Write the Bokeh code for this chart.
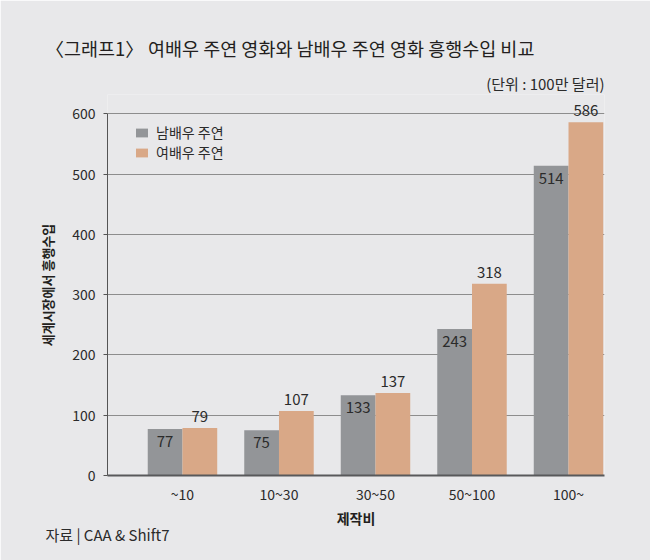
import numpy as np
from bokeh.plotting import figure
from bokeh.models import Range1d, FixedTicker, Title, Legend, LegendItem, ColumnDataSource
from bokeh.embed import file_html
from bokeh.resources import INLINE
from bokeh.core.properties import value

# ---- data ----
categories = ["~10", "10~30", "30~50", "50~100", "100~"]
male = [77, 75, 133, 243, 514]
female = [79, 107, 137, 318, 586]
y_ticks = [0, 100, 200, 300, 400, 500, 600]
series_names = ["남배우 주연", "여배우 주연"]
title_text = "〈그래프1〉 여배우 주연 영화와 남배우 주연 영화 흥행수입 비교"
unit_text = "(단위 : 100만 달러)"
y_label = "세계시장에서 흥행수입"
x_label = "제작비"
source_text = "자료 | CAA & Shift7"

FONT = "Noto Sans CJK KR"
BG = "#e8e8ea"
MALE_C = "#939598"
FEMALE_C = "#d9a887"
TXT = "#2b2b2b"

idx = np.arange(len(categories))
off = 0.18
bw = 0.36

src = ColumnDataSource(dict(
    xm=idx - off, xf=idx + off, male=male, female=female,
    ml=[str(v) for v in male], fl=[str(v) for v in female],
))

p = figure(width=650, height=560,
           x_range=Range1d(-0.777, 4.373), y_range=Range1d(0, 632),
           output_backend="svg", toolbar_location=None,
           title=title_text,
           min_border_left=107, min_border_right=46,
           min_border_top=94, min_border_bottom=85,
           background_fill_color=BG, border_fill_color=BG,
           outline_line_color=None)

p.title.align = "left"
p.title.offset = -62
p.title.text_font = FONT
p.title.text_font_size = "18.5px"
p.title.text_font_style = "normal"
p.title.text_color = "#231f20"
p.title.standoff = 18

unit_title = Title(text=unit_text, align="right", offset=0,
                   text_font=FONT, text_font_size="15px",
                   text_font_style="normal", text_color=TXT,
                   standoff=2, padding=0)
p.add_layout(unit_title, "above")

rm = p.vbar(x="xm", top="male", width=bw, source=src, fill_color=MALE_C, line_color=None)
rf = p.vbar(x="xf", top="female", width=bw, source=src, fill_color=FEMALE_C, line_color=None)

p.text(x="xm", y="male", text="ml", source=src, text_align="center",
       text_baseline="top", y_offset=7, text_font=value(FONT),
       text_font_size="15px", text_color=TXT)
p.text(x="xf", y="female", text="fl", source=src, text_align="center",
       text_baseline="bottom", y_offset=-6, text_font=value(FONT),
       text_font_size="15px", text_color=TXT)

# axes
p.yaxis.ticker = FixedTicker(ticks=y_ticks)
p.yaxis.bounds = (0, 600)
p.yaxis.major_tick_out = 4
p.yaxis.major_tick_in = 0
p.yaxis.minor_tick_line_color = None
p.yaxis.axis_line_color = "#555555"
p.yaxis.major_tick_line_color = "#555555"
p.yaxis.major_label_standoff = 8
p.yaxis.major_label_text_font = FONT
p.yaxis.major_label_text_font_size = "14px"
p.yaxis.major_label_text_color = TXT
p.yaxis.axis_label = y_label
p.yaxis.axis_label_text_font = FONT
p.yaxis.axis_label_text_font_size = "13px"
p.yaxis.axis_label_text_font_style = "bold"
p.yaxis.axis_label_text_color = "#231f20"
p.yaxis.axis_label_standoff = 12

p.xaxis.ticker = FixedTicker(ticks=list(idx))
p.xaxis.major_label_overrides = {int(i): c for i, c in zip(idx, categories)}
p.xaxis.major_tick_line_color = None
p.xaxis.minor_tick_line_color = None
p.xaxis.axis_line_color = "#58595b"
p.xaxis.axis_line_width = 2
p.xaxis.major_label_standoff = 2
p.xaxis.major_label_text_font = FONT
p.xaxis.major_label_text_font_size = "14px"
p.xaxis.major_label_text_color = TXT
p.xaxis.axis_label = x_label
p.xaxis.axis_label_text_font = FONT
p.xaxis.axis_label_text_font_size = "14px"
p.xaxis.axis_label_text_font_style = "bold"
p.xaxis.axis_label_text_color = "#231f20"
p.xaxis.axis_label_standoff = 1

p.xgrid.grid_line_color = None
p.ygrid.ticker = FixedTicker(ticks=y_ticks)
p.ygrid.grid_line_color = "#8d8d8d"
p.ygrid.grid_line_width = 1

legend = Legend(items=[LegendItem(label=series_names[0], renderers=[rm]),
                       LegendItem(label=series_names[1], renderers=[rf])],
                location=(27, 313), orientation="vertical",
                background_fill_alpha=0, border_line_color=None,
                padding=0, margin=0, spacing=0,
                glyph_width=15, glyph_height=11, label_height=18,
                label_standoff=7,
                label_text_font=FONT, label_text_font_size="14px",
                label_text_color=TXT)
p.add_layout(legend, "center")

source_title = Title(text=source_text, align="left", offset=-62,
                     text_font=FONT, text_font_size="15px",
                     text_font_style="normal", text_color=TXT,
                     standoff=-18, padding=0)
p.add_layout(source_title, "below")

html = file_html(p, INLINE)
html = html.replace("<body>", '<body style="background-color:%s;">' % BG, 1)
open("out.html", "w").write(html)
